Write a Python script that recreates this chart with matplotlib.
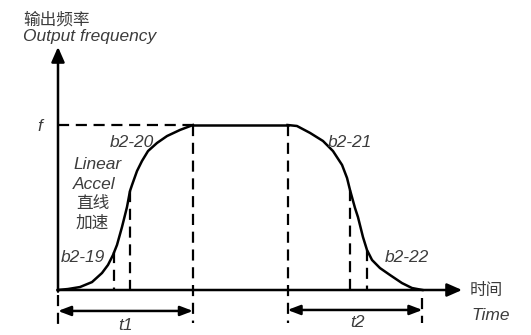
import matplotlib.pyplot as plt

plt.rcParams['font.family'] = ['Liberation Sans', 'Noto Sans CJK SC', 'DejaVu Sans']

# time axis: accel 0..10 (t1), hold, decel 17..27 (t2); frequency as fraction of f
acc_t = [0, 0.741, 1.630, 2.519, 3.259, 3.704, 4.074, 4.370, 4.741, 5.111,
         5.333, 5.481, 5.852, 6.222, 6.667, 7.333, 8.074, 9.037, 10]
acc_f = [0, 0.006, 0.018, 0.048, 0.103, 0.152, 0.212, 0.273, 0.382, 0.503,
         0.600, 0.636, 0.721, 0.782, 0.842, 0.891, 0.933, 0.970, 1.0]
hold_t = [10, 17]
dec_t = [17, 17.70, 18.67, 19.63, 20.37, 21.04, 21.41, 21.63, 22.0, 22.22,
         22.59, 22.89, 23.26, 23.85, 24.59, 25.48, 26.22, 27]
dec_f = [1.0, 0.994, 0.952, 0.903, 0.842, 0.758, 0.679, 0.606, 0.497, 0.442,
         0.321, 0.242, 0.182, 0.133, 0.091, 0.042, 0.012, 0]
marks_t = [4.148, 5.333, 21.63, 22.89]
marks_f = [0.230, 0.600, 0.606, 0.242]
t1 = (0, 10)
t2 = (17, 27)

ink = 'black'
txt = '#3c3c3c'

fig = plt.figure(figsize=(5.31, 3.35), dpi=100)
ax = fig.add_axes([0, 0, 1, 1])
ax.set_xlim(-58 / 13.5, 473 / 13.5)
ax.set_ylim(-45 / 165, 290 / 165)
ax.axis('off')

# axes with arrows
arr = dict(arrowstyle='-|>,head_length=0.5,head_width=0.22', lw=1.8,
           color=ink, mutation_scale=18, shrinkA=0, shrinkB=0)
ax.annotate('', xy=(0, 1.473), xytext=(0, -0.01), arrowprops=arr)
ax.annotate('', xy=(29.93, 0), xytext=(-0.05, 0), arrowprops=arr)

# curve
lw = 1.8
ax.plot(acc_t, acc_f, color=ink, lw=lw, solid_joinstyle='round')
ax.plot(hold_t, [1, 1], color=ink, lw=lw)
ax.plot(dec_t, dec_f, color=ink, lw=lw, solid_joinstyle='round')

# dashed guides
dash = dict(color=ink, lw=1.6, dashes=(5, 3))
ax.plot([0, t1[1]], [1, 1], **dash)
ax.plot([t1[1], t1[1]], [1, -0.2], **dash)
ax.plot([t2[0], t2[0]], [1, -0.2], **dash)
ax.plot([0, 0], [-0.03, -0.21], **dash)
ax.plot([t2[1], t2[1]], [-0.05, -0.2], **dash)
for mt, mf in zip(marks_t, marks_f):
    ax.plot([mt, mt], [mf, 0], **dash)

# duration arrows
darr = dict(arrowstyle='<|-|>,head_length=0.42,head_width=0.16', lw=1.8,
            color=ink, mutation_scale=18, shrinkA=0, shrinkB=0)
ax.annotate('', xy=(t1[1], -0.127), xytext=(t1[0], -0.127), arrowprops=darr)
ax.annotate('', xy=(t2[1], -0.121), xytext=(t2[0], -0.121), arrowprops=darr)

fs = 12.5
it = dict(color=txt, fontsize=fs, style='italic', va='center')
cj = dict(color=txt, fontsize=12, va='center', family='Noto Sans CJK SC')
ax.text(-2.59, 1.636, '输出频率', ha='left', **cj)
ax.text(-2.59, 1.539, 'Output frequency', ha='left', **it)
ax.text(-1.33, 0.988, 'f', ha='center', **it)
ax.text(3.85, 0.891, 'b2-20', ha='left', **it)
ax.text(1.11, 0.758, 'Linear', ha='left', **it)
ax.text(1.11, 0.642, 'Accel', ha='left', **it)
ax.text(1.33, 0.527, '直线', ha='left', **cj)
ax.text(1.33, 0.406, '加速', ha='left', **cj)
ax.text(0.22, 0.2, 'b2-19', ha='left', **it)
ax.text(20.0, 0.891, 'b2-21', ha='left', **it)
ax.text(24.22, 0.2, 'b2-22', ha='left', **it)
ax.text(30.52, -0.006, '时间', ha='left', **cj)
ax.text(30.6, -0.152, 'Time', ha='left', **it)
ax.text(4.96, -0.218, 't1', ha='center', **it)
ax.text(22.15, -0.194, 't2', ha='center', **it)

fig.savefig('out.png', dpi=100)
